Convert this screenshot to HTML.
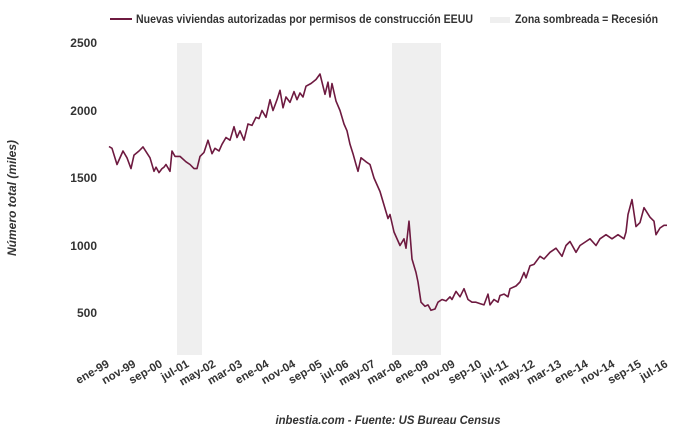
<!DOCTYPE html>
<html><head><meta charset="utf-8"><style>
body{margin:0;background:#fff;}
svg text{font-family:"Liberation Sans",sans-serif;fill:#333;font-weight:bold;}
</style></head><body>
<svg id="s" width="680" height="430" xmlns="http://www.w3.org/2000/svg">
<rect x="177" y="43" width="25" height="312" fill="#efefef"/>
<rect x="392" y="43" width="49" height="312" fill="#efefef"/>
<line x1="110" y1="19" x2="132" y2="19" stroke="#6e1a40" stroke-width="2"/>
<text x="136" y="23" font-size="12" textLength="337" lengthAdjust="spacingAndGlyphs">Nuevas viviendas autorizadas por permisos de construcción EEUU</text>
<rect x="490" y="17" width="20" height="6" fill="#efefef"/>
<text x="515" y="23" font-size="12" textLength="143" lengthAdjust="spacingAndGlyphs">Zona sombreada = Recesión</text>
<g font-size="12" text-anchor="end">
<text x="97" y="47">2500</text>
<text x="97" y="115">2000</text>
<text x="97" y="182">1500</text>
<text x="97" y="250">1000</text>
<text x="97" y="317">500</text>
</g>
<text transform="translate(16,198) rotate(-90)" font-size="12" font-style="italic" text-anchor="middle">Número total (miles)</text>
<g id="xl" font-size="11.5"></g>
<polyline id="ln" fill="none" stroke="#6e1a40" stroke-width="1.6" stroke-linejoin="round"/>
<text x="388" y="424" font-size="12" font-style="italic" text-anchor="middle" textLength="225" lengthAdjust="spacingAndGlyphs">inbestia.com - Fuente: US Bureau Census</text>
</svg>
<script>
var d=[[109,1733],[112,1720],[117,1600],[123,1700],[127,1650],[131,1570],[134,1670],[139,1700],[143,1730],[150,1650],[154,1550],[156,1580],[159,1540],[162,1570],[164,1580],[166,1600],[170,1550],[172,1700],[175,1660],[180,1660],[186,1620],[190,1600],[194,1570],[197,1570],[200,1660],[204,1690],[208,1780],[212,1680],[215,1720],[219,1700],[222,1750],[226,1800],[230,1780],[234,1880],[237,1800],[240,1850],[244,1780],[248,1900],[252,1890],[256,1950],[259,1940],[262,2000],[266,1950],[270,2080],[273,2000],[277,2080],[280,2150],[283,2020],[286,2100],[290,2060],[294,2140],[297,2080],[300,2130],[303,2100],[306,2180],[311,2200],[316,2230],[320,2270],[325,2120],[328,2210],[330,2100],[332,2200],[336,2070],[340,2000],[344,1900],[347,1850],[350,1750],[353,1680],[356,1600],[358,1550],[361,1650],[366,1620],[370,1600],[374,1500],[380,1400],[384,1300],[388,1200],[390,1230],[394,1100],[400,1000],[404,1050],[406,980],[409,1180],[412,900],[416,800],[418,730],[421,580],[425,550],[428,560],[431,520],[435,530],[438,580],[442,600],[446,590],[450,620],[452,600],[456,660],[460,620],[464,680],[468,600],[472,580],[476,580],[480,570],[484,560],[488,640],[490,560],[494,600],[498,580],[500,630],[504,640],[508,620],[510,680],[516,700],[520,730],[524,800],[526,760],[530,850],[534,860],[540,920],[544,900],[550,950],[556,980],[562,920],[566,1000],[570,1030],[576,950],[580,1000],[586,1030],[590,1050],[596,1000],[600,1050],[606,1080],[612,1050],[618,1080],[624,1050],[626,1100],[628,1230],[632,1340],[636,1140],[640,1170],[644,1280],[650,1210],[654,1180],[656,1080],[660,1130],[664,1150],[667,1150]];
document.getElementById('ln').setAttribute('points',d.map(function(p){return p[0]+','+(43+(2500-p[1])*0.135).toFixed(1)}).join(' '));
var L=['ene-99','nov-99','sep-00','jul-01','may-02','mar-03','ene-04','nov-04','sep-05','jul-06','may-07','mar-08','ene-09','nov-09','sep-10','jul-11','may-12','mar-13','ene-14','nov-14','sep-15','jul-16'],h='';
for(var i=0;i<L.length;i++){var x=109+26.6*i;h+='<text transform="translate('+(x+1)+',366) rotate(-30)" text-anchor="end">'+L[i]+'</text>';}
document.getElementById('xl').innerHTML=h;
</script>
</body></html>
